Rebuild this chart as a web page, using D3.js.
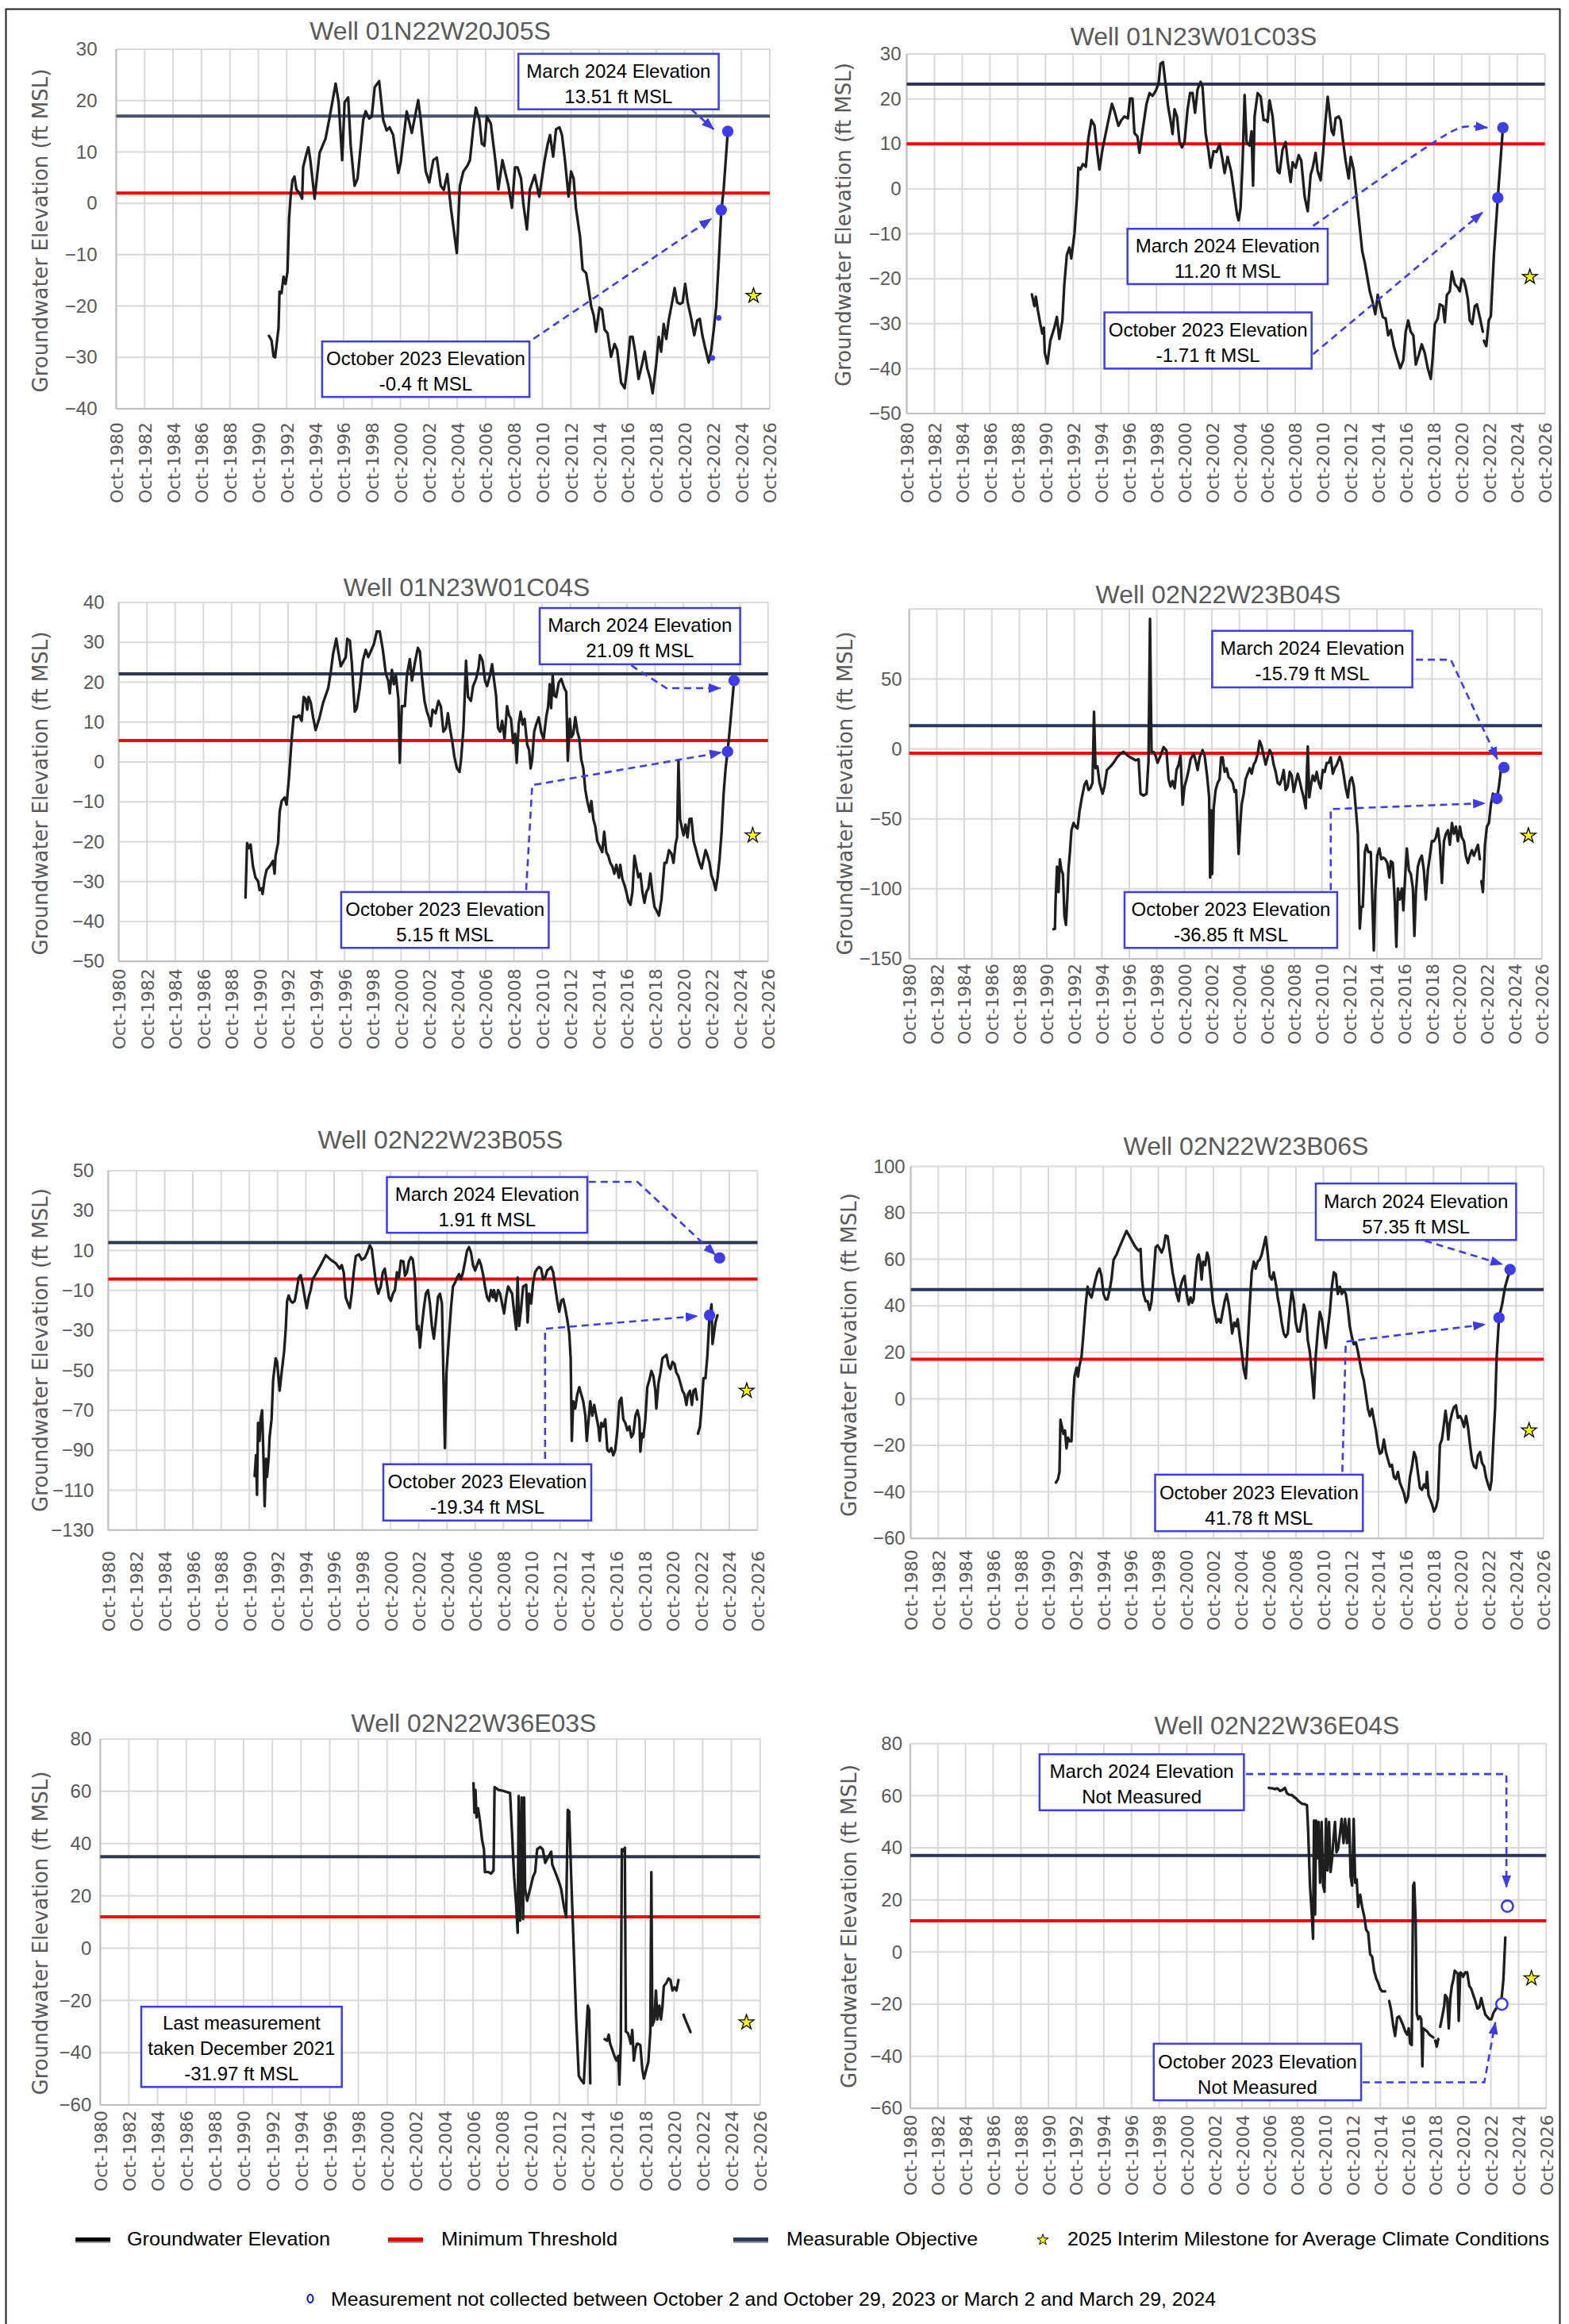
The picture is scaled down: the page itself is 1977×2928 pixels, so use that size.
<!DOCTYPE html>
<html><head><meta charset="utf-8">
<script src="https://cdn.jsdelivr.net/npm/d3@7"></script>
<style>body{margin:0;background:#fff}</style>
</head><body>
<script>
// ---------------- DATA ----------------
const wellTitles = ["Well 01N22W20J05S","Well 01N23W01C03S","Well 01N23W01C04S","Well 02N22W23B04S","Well 02N22W23B05S","Well 02N22W23B06S","Well 02N22W36E03S","Well 02N22W36E04S"];
const xTickLabels = ["Oct-1980","Oct-1982","Oct-1984","Oct-1986","Oct-1988","Oct-1990","Oct-1992","Oct-1994","Oct-1996","Oct-1998","Oct-2000","Oct-2002","Oct-2004","Oct-2006","Oct-2008","Oct-2010","Oct-2012","Oct-2014","Oct-2016","Oct-2018","Oct-2020","Oct-2022","Oct-2024","Oct-2026"];
const yDomains = [[-40,30],[-50,30],[-50,40],[-150,100],[-130,50],[-60,100],[-60,80],[-60,80]];
const yGridSteps = [10,10,10,50,20,20,20,20];
const yTickLabels = [
  [-40,-30,-20,-10,0,10,20,30],
  [-50,-40,-30,-20,-10,0,10,20,30],
  [-50,-40,-30,-20,-10,0,10,20,30,40],
  [-150,-100,-50,0,50],
  [-130,-110,-90,-70,-50,-30,-10,10,30,50],
  [-60,-40,-20,0,20,40,60,80,100],
  [-60,-40,-20,0,20,40,60,80],
  [-60,-40,-20,0,20,40,60,80]
];
const measurableObjective = [17, 23.3, 22.1, 16.7, 14, 47, 35, 37];
const minimumThreshold = [2, 10, 5.4, -3.1, -4.3, 17, 12, 12];
const interimMilestone2025 = [[2025.6,-18],[2025.66,-19.6],[2025.66,-18.4],[2025.76,-62],[2025.98,-60.2],[2025.69,-13.6],[2025.8,-28.4],[2025.68,-10.1]];
const oct2023Points = [[2023.33,-1.3],[2023.35,-2.0],[2023.88,2.6],[2023.47,-35.4],[2023.35,-22.4],[2023.51,34.9],null,[2023.54,-20]];
const mar2024Points = [[2023.79,14.0],[2023.72,13.6],[2024.34,20.4],[2023.98,-13.3],[2024.06,6.3],[2024.31,55.6],null,[2023.94,17.6]];
const pointMeasured = [true,true,true,true,true,true,true,false];
const marchLabels = ["13.51 ft MSL","11.20 ft MSL","21.09 ft MSL","-15.79 ft MSL","1.91 ft MSL","57.35 ft MSL",null,"Not Measured"];
const octoberLabels = ["-0.4 ft MSL","-1.71 ft MSL","5.15 ft MSL","-36.85 ft MSL","-19.34 ft MSL","41.78 ft MSL",null,"Not Measured"];
const lastMeasurementLines = ["Last measurement","taken December 2021","-31.97 ft MSL"];
const extraDots1 = [[2022.7,-30.1],[2023.15,-22.3]];

const gw1 = [[1991.5,-25.8],[1991.68,-26.7],[1991.82,-29.8],[1991.93,-30],[1992.17,-24.3],[1992.24,-17.2],[1992.38,-17.5],[1992.52,-14.3],[1992.66,-15.7],[1992.8,-13.3],[1992.91,-3],[1993.02,1.3],[1993.15,4.5],[1993.29,5.2],[1993.43,2.7],[1993.64,2],[1993.83,0.9],[1993.9,7],[1994.15,9.8],[1994.27,10.9],[1994.41,8.4],[1994.71,0.9],[1995.06,9.8],[1995.48,12.6],[1995.73,16.2],[1996.19,23.3],[1996.4,19.7],[1996.65,8.4],[1996.82,19.7],[1997.07,20.6],[1997.25,11.2],[1997.52,3.4],[1997.73,4.8],[1998.13,16.2],[1998.3,17.9],[1998.55,16.5],[1998.73,16.9],[1998.94,22.6],[1999.25,23.8],[1999.54,16.2],[1999.78,14.2],[1999.99,14.8],[2000.24,13.3],[2000.6,5.9],[2000.77,8],[2001.19,17.9],[2001.55,13.7],[2002.0,20.1],[2002.18,16.2],[2002.53,6.2],[2002.78,4.1],[2003.06,8.4],[2003.31,8.9],[2003.59,3.4],[2003.8,2.6],[2004.05,5.7],[2004.3,-0.9],[2004.72,-9.7],[2004.93,3.4],[2005.18,6.2],[2005.46,7.3],[2005.64,8.4],[2005.88,14.8],[2006.06,18.6],[2006.31,16.2],[2006.48,11.6],[2006.66,11.2],[2006.83,16.9],[2007.11,15.5],[2007.46,7.7],[2007.64,2.7],[2007.93,8.4],[2008.17,5.5],[2008.35,3.4],[2008.6,-0.9],[2008.81,7],[2008.99,7],[2009.24,4.8],[2009.4,-0.1],[2009.65,-5.1],[2009.86,2.7],[2010.2,5.5],[2010.52,1.3],[2010.9,8.4],[2011.12,11.6],[2011.28,13.3],[2011.5,9.1],[2011.7,14.4],[2011.94,14.8],[2012.12,13.3],[2012.33,8.4],[2012.58,1.3],[2012.76,6.2],[2012.94,4.8],[2013.1,-0.9],[2013.39,-6.5],[2013.57,-12.9],[2013.82,-13.6],[2013.99,-16.5],[2014.17,-20],[2014.35,-21.8],[2014.52,-25],[2014.76,-20.3],[2014.94,-20.7],[2015.12,-24.6],[2015.33,-25.3],[2015.57,-29.9],[2015.82,-27.4],[2016.0,-28.5],[2016.28,-34.9],[2016.53,-36],[2016.74,-31.3],[2016.92,-26],[2017.09,-26],[2017.27,-28.9],[2017.51,-34.2],[2017.76,-31.3],[2017.94,-28.9],[2018.12,-32.1],[2018.33,-34.2],[2018.5,-37],[2018.75,-31.3],[2018.93,-26],[2019.1,-28.9],[2019.28,-23.5],[2019.46,-26.4],[2019.63,-22.8],[2019.87,-19.3],[2020.05,-16.5],[2020.23,-19.3],[2020.44,-19.6],[2020.61,-19.3],[2020.79,-15.7],[2020.97,-19.3],[2021.22,-22.5],[2021.43,-25.7],[2021.64,-22.8],[2021.82,-22.5],[2022.0,-25.7],[2022.17,-27.8],[2022.45,-31],[2022.63,-28.5],[2022.8,-24.6],[2022.98,-20],[2023.15,-11.5],[2023.33,-1.6],[2023.5,2.7],[2023.79,14]];

const gw2 = [[1989.77,-23.5],[1989.95,-26.1],[1990.06,-24],[1990.2,-27],[1990.38,-30.1],[1990.52,-32.2],[1990.63,-30.9],[1990.7,-36.5],[1990.89,-38.9],[1991.1,-33.8],[1991.39,-30.9],[1991.57,-28.5],[1991.75,-33.4],[1991.97,-29.3],[1992.11,-21.2],[1992.29,-14.7],[1992.47,-13.1],[1992.61,-15.5],[1992.84,-9.9],[1993.02,-1.8],[1993.12,4.7],[1993.27,4.3],[1993.45,5.5],[1993.66,4.9],[1993.84,11.2],[1994.06,15.3],[1994.28,14.1],[1994.46,8.8],[1994.64,4.3],[1994.86,8.8],[1995.07,12],[1995.29,15.3],[1995.54,18.9],[1995.72,17.3],[1996.01,14],[1996.22,15.3],[1996.44,16.1],[1996.69,15.7],[1996.84,20.1],[1997.02,20.1],[1997.16,12.4],[1997.38,11.6],[1997.52,8],[1997.74,12.8],[1998.03,18.9],[1998.25,21.3],[1998.47,20.7],[1998.68,21.7],[1998.9,23.4],[1999.04,27.8],[1999.22,28.2],[1999.4,23.4],[1999.58,18.5],[1999.76,15.3],[1999.91,12.2],[2000.05,17.7],[2000.23,16.1],[2000.41,10.4],[2000.59,9.2],[2000.77,10.4],[2000.99,17.7],[2001.17,21.3],[2001.35,21.3],[2001.53,16.9],[2001.71,22.1],[2001.93,23.8],[2002.07,22.6],[2002.29,12.4],[2002.5,8.4],[2002.65,4.7],[2002.87,8.4],[2003.08,8.2],[2003.3,10],[2003.52,6.3],[2003.66,3.5],[2003.88,7.1],[2004.13,3.9],[2004.31,-0.1],[2004.56,-5.8],[2004.67,-7],[2004.81,-4.2],[2004.96,6.3],[2005.1,20.9],[2005.24,10.4],[2005.46,9.6],[2005.6,12.8],[2005.71,0.7],[2005.82,16.1],[2006.04,21.3],[2006.26,20.5],[2006.47,15.3],[2006.62,15.3],[2006.76,14.9],[2006.9,19.7],[2007.12,16.1],[2007.26,11.2],[2007.48,3.9],[2007.62,3.5],[2007.84,8.8],[2008.06,10.4],[2008.2,6.3],[2008.42,1.5],[2008.56,5.9],[2008.78,4.7],[2009.0,7.5],[2009.18,6.3],[2009.43,-1.8],[2009.65,-5],[2009.86,3.1],[2010.01,4.7],[2010.22,8],[2010.36,4],[2010.58,1.9],[2010.76,8],[2010.94,15.3],[2011.09,20.5],[2011.23,16.9],[2011.38,12.8],[2011.52,12],[2011.66,15.7],[2011.88,16.1],[2012.02,15.3],[2012.17,11.2],[2012.38,6.3],[2012.6,2.3],[2012.75,7.1],[2012.96,4.3],[2013.11,-0.1],[2013.33,-6.6],[2013.58,-13.9],[2013.76,-16.4],[2013.94,-19.6],[2014.12,-22.8],[2014.34,-25.3],[2014.52,-27.9],[2014.7,-23.6],[2014.88,-26.1],[2015.06,-28.5],[2015.27,-28.9],[2015.45,-32.6],[2015.63,-31.4],[2015.85,-35],[2016.07,-37.4],[2016.32,-39.9],[2016.54,-38.2],[2016.71,-31.8],[2016.89,-29.3],[2017.07,-31.8],[2017.26,-32.6],[2017.44,-39.1],[2017.65,-37],[2017.87,-34.6],[2018.09,-36.6],[2018.3,-39.9],[2018.52,-42.3],[2018.66,-37.4],[2018.81,-30.1],[2019.02,-28.9],[2019.17,-25.7],[2019.39,-26.1],[2019.53,-29.7],[2019.68,-23.6],[2019.89,-22.8],[2020.04,-18.4],[2020.25,-21.2],[2020.47,-22],[2020.61,-22.8],[2020.75,-20],[2020.9,-20.4],[2021.04,-22],[2021.19,-24.5],[2021.33,-29.3],[2021.51,-30.1],[2021.69,-26.1],[2021.84,-25.7],[2022.05,-28.5],[2022.27,-31.8],[2022.3,null],[2022.35,-33.8],[2022.52,-35],[2022.7,-29.3],[2022.85,-28.3],[2023.07,-14.7],[2023.35,-2],[2023.72,13.6]];

const gw3 = [[1989.73,-34],[1989.84,-20.3],[1989.98,-21.6],[1990.09,-20.7],[1990.26,-26.2],[1990.44,-29],[1990.62,-29.9],[1990.73,-32.1],[1990.87,-31.7],[1990.94,-33.1],[1991.08,-29.4],[1991.22,-27.1],[1991.51,-25.8],[1991.68,-24.8],[1991.79,-28],[1991.86,-23.5],[1992.04,-20.3],[1992.15,-12.5],[1992.29,-9.8],[1992.5,-8.9],[1992.64,-10.7],[1992.82,-3.4],[1993.0,5.8],[1993.14,11.4],[1993.35,11.2],[1993.53,11.7],[1993.71,10.3],[1993.85,16.3],[1993.99,15.8],[1994.1,13.1],[1994.2,16.3],[1994.35,14.9],[1994.52,11.2],[1994.7,8],[1994.98,11.2],[1995.23,14.9],[1995.59,18.5],[1995.77,22.6],[1995.94,27.2],[1996.16,30.9],[1996.3,27.7],[1996.48,24],[1996.69,25.4],[1996.83,26.3],[1996.94,30.9],[1997.12,30.4],[1997.26,24.9],[1997.47,12.6],[1997.61,13.5],[1997.82,18.5],[1998.04,25.4],[1998.25,28.1],[1998.43,26.3],[1998.6,27.7],[1998.82,29.5],[1999.03,32.7],[1999.24,32.7],[1999.46,28.1],[1999.67,22.2],[1999.84,20.4],[1999.95,17.2],[2000.1,23.1],[2000.24,19.5],[2000.38,21.7],[2000.56,15.8],[2000.66,-0.2],[2000.8,14],[2001.02,14],[2001.16,21.7],[2001.37,25.8],[2001.52,20.4],[2001.73,24.9],[2001.94,28.6],[2002.08,27.7],[2002.23,21.3],[2002.41,15.3],[2002.58,12.6],[2002.72,11.2],[2002.86,9],[2002.98,13.1],[2003.2,12.2],[2003.4,15.3],[2003.57,13.9],[2003.75,7.6],[2003.93,8.5],[2004.07,12.2],[2004.21,8.5],[2004.39,4.8],[2004.53,1.2],[2004.71,-1.6],[2004.89,-2.5],[2004.99,0.3],[2005.17,8.5],[2005.35,25.4],[2005.49,16.3],[2005.7,15.3],[2005.85,19],[2006.06,20.8],[2006.24,23.6],[2006.34,26.8],[2006.52,25.4],[2006.7,20.4],[2006.84,19],[2007.02,21.3],[2007.2,24.5],[2007.34,20.4],[2007.48,16.7],[2007.62,8.5],[2007.77,7.6],[2007.91,10.3],[2008.08,5.8],[2008.26,14],[2008.4,11.7],[2008.54,10.8],[2008.69,4.8],[2008.83,7.1],[2008.94,-0.2],[2009.08,9.4],[2009.22,12.6],[2009.36,9.4],[2009.5,10.8],[2009.68,4.4],[2009.82,3],[2009.93,-1.6],[2010.04,0.7],[2010.18,7.6],[2010.32,9.4],[2010.5,11.2],[2010.67,7.6],[2010.85,5.8],[2011.03,11.2],[2011.17,14],[2011.28,19.5],[2011.38,13.5],[2011.49,21.7],[2011.6,16.7],[2011.74,16.3],[2011.92,19.9],[2012.1,20.8],[2012.31,18.5],[2012.45,17.6],[2012.56,0.3],[2012.7,10.8],[2012.81,6.2],[2012.95,7.1],[2013.09,11.2],[2013.24,7.6],[2013.38,5.8],[2013.51,0.7],[2013.66,-1.6],[2013.8,-7],[2013.94,-9.8],[2014.12,-12.5],[2014.23,-9.8],[2014.37,-14.3],[2014.51,-16.2],[2014.65,-19.8],[2014.83,-21.2],[2015.0,-22.6],[2015.14,-17.5],[2015.29,-22.6],[2015.43,-23.5],[2015.57,-25.3],[2015.72,-26.2],[2015.86,-28],[2016.0,-25.8],[2016.18,-29],[2016.28,-25.8],[2016.43,-29.4],[2016.57,-30.8],[2016.71,-32.6],[2016.85,-34.9],[2017.0,-35.8],[2017.14,-32.6],[2017.28,-23.5],[2017.42,-26.2],[2017.56,-28.9],[2017.7,-28],[2017.85,-32.6],[2017.99,-35.3],[2018.13,-32.6],[2018.27,-31.7],[2018.41,-28],[2018.55,-32.6],[2018.7,-36.3],[2018.84,-37.2],[2019.02,-38.5],[2019.2,-34.4],[2019.41,-25.3],[2019.55,-25.3],[2019.73,-22.1],[2019.91,-23],[2020.05,-25.3],[2020.19,-20.7],[2020.3,-18.9],[2020.4,0.3],[2020.51,-14.3],[2020.62,-16.2],[2020.76,-18.4],[2020.9,-15.7],[2021.04,-18.9],[2021.18,-14.3],[2021.32,-14.2],[2021.47,-19.8],[2021.61,-21.6],[2021.75,-23.5],[2021.89,-25.3],[2022.04,-26.7],[2022.18,-24.4],[2022.32,-22.1],[2022.46,-23.5],[2022.6,-25.3],[2022.74,-28.5],[2022.89,-29.9],[2023.03,-32.1],[2023.17,-29],[2023.31,-24.4],[2023.45,-18],[2023.6,-7.9],[2023.74,-1.6],[2023.88,2.6],[2024.02,7.6],[2024.34,20.4]];

const gw4 = [[1991.23,-128.9],[1991.34,-128.5],[1991.38,-110.2],[1991.49,-84.1],[1991.6,-102.3],[1991.7,-78.9],[1991.81,-86.7],[1991.92,-89.3],[1992.03,-119.3],[1992.14,-125.8],[1992.25,-105],[1992.32,-86.7],[1992.43,-73.7],[1992.54,-58.1],[1992.69,-52.9],[1992.83,-55.5],[1992.98,-56.8],[1993.12,-45],[1993.3,-34.6],[1993.49,-25.5],[1993.63,-22.9],[1993.78,-29.4],[1993.92,-28.1],[1994.07,-24.2],[1994.18,26.6],[1994.29,-13.8],[1994.43,-12.5],[1994.58,-24.2],[1994.8,-32],[1994.94,-26.8],[1995.12,-15.1],[1995.38,-12.5],[1995.6,-9.9],[1995.85,-6],[1996.11,-3.4],[1996.33,-2.1],[1996.62,-4.7],[1996.91,-6.5],[1997.2,-8.1],[1997.42,-7.3],[1997.56,-32],[1997.78,-33.3],[1998.0,-32],[1998.14,-8.6],[1998.25,93],[1998.36,-2.1],[1998.5,-2.1],[1998.65,-4.7],[1998.8,-9.9],[1999.02,-4.7],[1999.24,1.3],[1999.45,-1.3],[1999.6,-21.6],[1999.74,-26.8],[1999.89,-22.9],[2000.04,-28.1],[2000.18,-15.1],[2000.33,-11.2],[2000.47,-4.7],[2000.62,-39.8],[2000.76,-26.8],[2000.91,-21.6],[2001.06,-15.1],[2001.2,-7.3],[2001.42,-3.4],[2001.57,-8.6],[2001.71,-15.1],[2001.86,-6],[2002.07,-0.8],[2002.22,-4.7],[2002.4,-19],[2002.55,-34.6],[2002.62,-91.9],[2002.69,-43.8],[2002.77,-89.3],[2002.88,-42.4],[2003.02,-29.4],[2003.17,-24.2],[2003.31,-21.6],[2003.42,-6],[2003.53,-6],[2003.68,-16.4],[2003.82,-13.8],[2003.97,-20.3],[2004.11,-21.6],[2004.26,-24.2],[2004.4,-30.7],[2004.51,-29.4],[2004.62,-55.5],[2004.69,-75],[2004.8,-55.5],[2004.91,-39.8],[2005.06,-32],[2005.2,-21.6],[2005.35,-17.7],[2005.5,-13.8],[2005.64,-17.7],[2005.79,-11.2],[2005.93,-8.6],[2006.08,-3.4],[2006.22,5.7],[2006.37,1.8],[2006.51,-4.7],[2006.66,-11.2],[2006.8,-6],[2006.95,-0.8],[2007.1,-3.4],[2007.24,-11.2],[2007.39,-16.4],[2007.53,-24.2],[2007.68,-25.5],[2007.83,-21.6],[2007.97,-15.1],[2008.11,-29.4],[2008.26,-26.8],[2008.41,-16.4],[2008.55,-19],[2008.7,-30.7],[2008.84,-24.2],[2008.99,-17.7],[2009.13,-22.9],[2009.28,-29.4],[2009.42,-34.6],[2009.57,-42.4],[2009.72,1.8],[2009.83,-34.6],[2009.94,-26.8],[2010.08,-19],[2010.23,-22.9],[2010.37,-16.4],[2010.52,-24.2],[2010.66,-28.1],[2010.81,-15.1],[2010.95,-16.4],[2011.1,-9.9],[2011.25,-9.9],[2011.39,-6],[2011.54,-17.7],[2011.68,-13.8],[2011.83,-11.2],[2012.05,-5.5],[2012.19,-9.9],[2012.34,-19],[2012.48,-28.1],[2012.63,-34.6],[2012.77,-22.9],[2012.92,-20.3],[2013.07,-26.8],[2013.21,-42.4],[2013.36,-60.7],[2013.5,-128.4],[2013.61,-112.8],[2013.72,-112.8],[2013.87,-73.7],[2013.98,-68.5],[2014.12,-73.7],[2014.3,-73.7],[2014.41,-107.6],[2014.52,-144],[2014.63,-102.3],[2014.77,-76.3],[2014.92,-71.1],[2015.06,-78.9],[2015.21,-77.6],[2015.36,-78.9],[2015.5,-81.5],[2015.65,-91.9],[2015.76,-80.2],[2015.9,-81.5],[2016.05,-110.2],[2016.16,-141.4],[2016.27,-99.7],[2016.41,-107.6],[2016.56,-99.7],[2016.67,-115.4],[2016.81,-89.3],[2016.92,-71.1],[2017.07,-86.7],[2017.21,-89.3],[2017.36,-99.7],[2017.47,-133.6],[2017.58,-102.3],[2017.72,-84.1],[2017.87,-78.9],[2018.01,-76.3],[2018.16,-86.7],[2018.3,-107.6],[2018.45,-86.7],[2018.6,-76.3],[2018.74,-65.9],[2018.89,-65.9],[2019.03,-63.3],[2019.18,-56.8],[2019.32,-68.5],[2019.47,-95.8],[2019.62,-65.9],[2019.76,-60.7],[2019.91,-58.1],[2020.05,-68.5],[2020.2,-52.9],[2020.34,-60.7],[2020.49,-55.5],[2020.63,-65.9],[2020.78,-55.5],[2020.92,-63.3],[2021.07,-65.9],[2021.21,-76.3],[2021.36,-81.5],[2021.5,-76.3],[2021.65,-72.4],[2021.8,-76.3],[2021.94,-72.4],[2022.09,-68.5],[2022.23,-78.9],[2022.28,null],[2022.34,-94.5],[2022.45,-102.3],[2022.6,-68.5],[2022.74,-55.5],[2022.89,-52.9],[2023.03,-39.8],[2023.18,-32],[2023.47,-35.4],[2023.62,-26.8],[2023.76,-15.1],[2023.98,-13.3]];

const gw5 = [[1991.12,-102.9],[1991.22,-92.5],[1991.29,-112.3],[1991.36,-76.3],[1991.47,-85.3],[1991.54,-74.5],[1991.65,-70],[1991.75,-94.3],[1991.83,-118],[1991.93,-94.3],[1992.0,-103.3],[1992.11,-94.3],[1992.18,-83.5],[1992.32,-74.5],[1992.43,-54.8],[1992.61,-44],[1992.71,-45.8],[1992.89,-60.2],[1993.03,-51.2],[1993.21,-40.4],[1993.32,-29.6],[1993.42,-15.2],[1993.53,-12.5],[1993.67,-15.2],[1993.81,-16.1],[1993.96,-15.2],[1994.1,-9.8],[1994.24,-3.5],[1994.38,-2.3],[1994.52,-7.1],[1994.67,-13.4],[1994.81,-18.8],[1994.95,-13.4],[1995.09,-9.8],[1995.23,-4.4],[1995.45,-1.8],[1995.8,2.7],[1996.16,7.6],[1996.51,5.4],[1996.87,3.6],[1997.15,0.9],[1997.29,2.7],[1997.43,-0.9],[1997.57,-13.4],[1997.71,-16.1],[1997.86,-18.8],[1998.0,-11.6],[1998.14,-0.9],[1998.29,7.2],[1998.5,8.1],[1998.71,5.4],[1998.92,6.3],[1999.1,9],[1999.28,12.6],[1999.42,10.8],[1999.56,2.7],[1999.71,-6.2],[1999.88,-11.6],[2000.06,-8],[2000.2,-0.9],[2000.34,0.9],[2000.49,-6.2],[2000.63,-13.4],[2000.77,-15.2],[2000.92,-11.6],[2001.06,-9.8],[2001.2,-0.9],[2001.34,-3.5],[2001.48,4.9],[2001.66,4.5],[2001.77,-2.6],[2001.91,-0.9],[2002.05,4.5],[2002.19,6.7],[2002.33,5.4],[2002.48,-4.4],[2002.62,-29.6],[2002.73,-27.8],[2002.83,-38.6],[2002.97,-27.8],[2003.11,-18.8],[2003.25,-11.6],[2003.4,-9.8],[2003.54,-16.5],[2003.68,-27.8],[2003.82,-34.1],[2003.97,-24.2],[2004.11,-13.4],[2004.25,-11.6],[2004.39,-16.5],[2004.46,-40.4],[2004.6,-88.9],[2004.71,-51.2],[2004.85,-36.8],[2005.03,-18.8],[2005.17,-8],[2005.31,-6.2],[2005.46,-3.5],[2005.6,-1.8],[2005.74,-4.4],[2005.88,-0.9],[2006.03,4.5],[2006.17,9.9],[2006.31,11.7],[2006.45,9],[2006.59,2.7],[2006.74,0],[2006.88,2.7],[2007.02,5.4],[2007.16,2.7],[2007.3,-1.8],[2007.44,-8],[2007.59,-13.4],[2007.73,-15.2],[2007.87,-9.8],[2008.01,-13.4],[2008.08,-9.8],[2008.23,-15.2],[2008.37,-9.8],[2008.51,-11.6],[2008.65,-16.5],[2008.79,-21.5],[2008.94,-13.4],[2009.08,-8],[2009.22,-9.8],[2009.36,-11.6],[2009.5,-20.6],[2009.65,-29.6],[2009.75,-3.5],[2009.86,-27.8],[2010.0,-18.8],[2010.14,-8],[2010.36,-7.1],[2010.46,-26],[2010.57,-11.6],[2010.71,-16.5],[2010.85,-6.2],[2010.99,-0.9],[2011.14,0.9],[2011.28,1.8],[2011.42,0.9],[2011.56,-4.4],[2011.7,-3.5],[2011.85,0],[2011.99,0.9],[2012.13,1.8],[2012.27,-0.9],[2012.41,-8],[2012.56,-15.2],[2012.7,-20.6],[2012.84,-15.2],[2012.98,-14.3],[2013.12,-18.8],[2013.26,-24.2],[2013.41,-31.4],[2013.51,-44],[2013.59,-85.3],[2013.69,-65.5],[2013.83,-69.1],[2013.98,-62],[2014.12,-58.4],[2014.26,-62],[2014.4,-65.5],[2014.55,-72.7],[2014.65,-85.3],[2014.76,-76.3],[2014.9,-65.5],[2015.04,-72.7],[2015.18,-67.3],[2015.32,-72.7],[2015.47,-78.1],[2015.57,-85.3],[2015.68,-76.3],[2015.82,-78.1],[2015.96,-74.5],[2016.11,-89.8],[2016.25,-90.7],[2016.39,-88.9],[2016.53,-92.5],[2016.67,-89.8],[2016.82,-80],[2016.96,-65.5],[2017.1,-63.7],[2017.24,-74.5],[2017.38,-76.3],[2017.53,-80],[2017.67,-78.1],[2017.81,-83.5],[2017.95,-81.7],[2018.1,-72.7],[2018.24,-70],[2018.38,-74.5],[2018.45,-90.7],[2018.56,-81.7],[2018.66,-83.5],[2018.8,-74.5],[2018.94,-58.4],[2019.09,-54.8],[2019.23,-50.3],[2019.37,-52.9],[2019.51,-60.2],[2019.58,-69.1],[2019.73,-56.6],[2019.87,-51.2],[2020.01,-44],[2020.15,-43.1],[2020.3,-42.2],[2020.44,-47.6],[2020.58,-49.4],[2020.72,-45.8],[2020.86,-46.7],[2021.0,-51.2],[2021.14,-52.9],[2021.29,-56.6],[2021.43,-60.2],[2021.57,-62],[2021.71,-67.3],[2021.82,-62],[2021.96,-60.2],[2022.1,-67.3],[2022.21,-60.2],[2022.35,-59.3],[2022.46,-64.6],[2022.5,null],[2022.53,-81.7],[2022.67,-78.1],[2022.78,-69.1],[2022.92,-53.9],[2023.06,-53.9],[2023.2,-42.2],[2023.35,-22.4],[2023.42,-20.6],[2023.49,-17],[2023.56,-36.8],[2023.63,-33.2],[2023.77,-26],[2023.91,-22.4]];

const gw6 = [[1991.3,-36],[1991.45,-34.5],[1991.56,-31.4],[1991.63,-9],[1991.74,-12],[1991.85,-15.1],[1991.96,-13.6],[1992.07,-21.3],[1992.18,-16.7],[1992.29,-18.2],[1992.43,-18.2],[1992.54,-1.2],[1992.65,9.6],[1992.8,13.4],[1992.9,9.6],[1993.01,14.2],[1993.16,18.1],[1993.3,28.1],[1993.45,39.7],[1993.6,48.2],[1993.74,45.1],[1993.89,43.6],[1994.03,47.4],[1994.18,51.3],[1994.32,54.4],[1994.47,56],[1994.61,52.9],[1994.76,45.1],[1994.91,42.8],[1995.05,42.8],[1995.2,46.7],[1995.34,51.3],[1995.49,59.8],[1995.71,62.1],[1995.92,65.2],[1996.14,68.3],[1996.43,72.2],[1996.65,69.9],[1996.87,67.5],[1997.09,65.2],[1997.31,63.7],[1997.45,64.5],[1997.56,51.3],[1997.67,45.1],[1997.82,42],[1997.96,42],[1998.11,38.2],[1998.25,42],[1998.4,52.9],[1998.55,65.2],[1998.69,66],[1998.84,64.5],[1998.98,62.9],[1999.13,65.2],[1999.27,70.2],[1999.42,69.9],[1999.53,65.2],[1999.64,60.6],[1999.78,54.4],[1999.93,49.8],[2000.07,45.1],[2000.22,42],[2000.36,48.2],[2000.51,51.3],[2000.65,52.9],[2000.8,45.1],[2000.95,40.5],[2001.09,43.6],[2001.2,41.3],[2001.31,42.8],[2001.42,51.3],[2001.57,60.6],[2001.67,62.1],[2001.78,59],[2001.89,51.3],[2002.0,59],[2002.15,57.5],[2002.29,62.9],[2002.4,60.6],[2002.55,51.3],[2002.7,42],[2002.84,37.4],[2002.99,32.8],[2003.13,34.3],[2003.28,32.8],[2003.42,37.4],[2003.57,42],[2003.71,45.1],[2003.86,40.5],[2003.97,35.9],[2004.11,28.1],[2004.26,32.8],[2004.4,31.2],[2004.51,34.3],[2004.66,26.6],[2004.8,20.4],[2004.95,12.7],[2005.1,8.8],[2005.24,23.5],[2005.39,40.5],[2005.53,54.4],[2005.68,59],[2005.82,56],[2005.97,59],[2006.11,59.8],[2006.26,62.1],[2006.41,66],[2006.55,69.6],[2006.7,62.1],[2006.84,52.9],[2006.99,51.3],[2007.13,54.4],[2007.28,49.8],[2007.42,43.6],[2007.57,38.9],[2007.71,32.8],[2007.86,28.1],[2008.0,26.6],[2008.15,28.1],[2008.3,38.9],[2008.44,46.7],[2008.59,42],[2008.73,32.8],[2008.88,28.9],[2009.02,28.9],[2009.17,34.3],[2009.32,40.5],[2009.46,37.4],[2009.61,25],[2009.75,20.4],[2009.9,11.1],[2010.05,0.3],[2010.19,18.9],[2010.34,29.7],[2010.48,37.4],[2010.63,34.3],[2010.77,28.1],[2010.92,21.9],[2011.06,29.7],[2011.21,37.4],[2011.36,48.2],[2011.5,54.4],[2011.65,53.6],[2011.79,45.1],[2011.94,48.2],[2012.08,45.1],[2012.23,46.7],[2012.37,45.1],[2012.52,38.9],[2012.66,31.2],[2012.81,26.6],[2012.95,23.5],[2013.1,24.3],[2013.25,20.4],[2013.39,15.8],[2013.54,11.1],[2013.68,8],[2013.83,1.9],[2013.98,-4.3],[2014.12,-7.4],[2014.27,-4.3],[2014.41,-9],[2014.56,-13.6],[2014.7,-19.8],[2014.85,-23.6],[2014.99,-22.9],[2015.14,-17.5],[2015.29,-22.9],[2015.43,-26],[2015.58,-29.1],[2015.72,-28.4],[2015.87,-33.7],[2016.01,-34.5],[2016.16,-31.4],[2016.3,-36],[2016.45,-38.3],[2016.6,-40.6],[2016.74,-44.5],[2016.89,-42.2],[2017.03,-33.7],[2017.18,-29.1],[2017.33,-22.9],[2017.47,-25.2],[2017.62,-32.2],[2017.76,-38.3],[2017.91,-39.1],[2018.05,-36.8],[2018.2,-38.3],[2018.27,-31.4],[2018.38,-41.4],[2018.49,-43],[2018.63,-45.3],[2018.78,-48.4],[2018.92,-46.8],[2019.07,-43],[2019.21,-19.8],[2019.36,-17.5],[2019.51,-10.5],[2019.62,-5.1],[2019.73,-10.5],[2019.82,-17.5],[2019.93,-10.5],[2020.1,-5.9],[2020.23,-3.6],[2020.38,-2.8],[2020.52,-8.2],[2020.67,-7.4],[2020.81,-9],[2020.96,-12.1],[2021.11,-7.4],[2021.25,-12.1],[2021.4,-19.8],[2021.54,-26],[2021.69,-29.1],[2021.84,-29.8],[2021.98,-24.4],[2022.13,-22.9],[2022.27,-27.5],[2022.42,-29.1],[2022.56,-33.7],[2022.71,-36.8],[2022.85,-39.1],[2022.96,-35.2],[2023.11,-16.7],[2023.22,-4.3],[2023.33,17.3],[2023.51,34.9],[2023.73,40.5],[2023.95,48.2],[2024.31,55.6]];

const gw7 = [[2006.77,63.1],[2006.84,51.8],[2006.91,60.5],[2006.98,50],[2007.09,53.5],[2007.23,48.3],[2007.37,41.3],[2007.5,37.8],[2007.57,29.1],[2007.82,29.1],[2008.0,28.5],[2008.17,29.7],[2008.24,61.6],[2008.52,60.5],[2008.87,60.1],[2009.32,59.3],[2009.46,43.6],[2009.6,27.4],[2009.74,16.9],[2009.85,5.9],[2009.92,58.2],[2010.02,10.5],[2010.13,57.6],[2010.23,11.1],[2010.3,57.6],[2010.37,22.7],[2010.51,18.1],[2010.72,22.7],[2010.93,27.4],[2011.07,29.1],[2011.21,37.8],[2011.42,38.7],[2011.6,37.8],[2011.77,32.6],[2011.98,34.9],[2012.19,36.9],[2012.26,32],[2012.47,29.1],[2012.71,25.6],[2012.88,22.7],[2013.06,16.3],[2013.23,11.7],[2013.34,52.9],[2013.44,52.3],[2013.58,27.4],[2013.76,-0.5],[2013.93,-27.3],[2014.11,-48.8],[2014.28,-50.5],[2014.46,-51.7],[2014.63,-33.1],[2014.74,-22],[2014.84,-23.8],[2014.91,-51.7],[2015.4,null],[2015.92,-34.8],[2016.09,-35.4],[2016.2,-33.1],[2016.3,-36.6],[2016.45,-38.9],[2016.59,-41.2],[2016.73,-43],[2016.87,-41.2],[2016.94,-52.2],[2017.04,-35.4],[2017.11,37.8],[2017.21,37.2],[2017.32,38.4],[2017.39,-31.9],[2017.53,-32.5],[2017.63,-34.2],[2017.74,-36.6],[2017.84,-31.3],[2017.95,-43],[2018.05,-38.9],[2018.16,-36.6],[2018.26,-36.6],[2018.4,-37.1],[2018.54,-46.4],[2018.65,-49.9],[2018.82,-46.4],[2018.96,-43.5],[2019.1,-31.9],[2019.17,29.1],[2019.24,-29.6],[2019.38,-27.3],[2019.49,-16.2],[2019.59,-27.3],[2019.73,-22],[2019.84,-27.3],[2019.94,-22.6],[2020.04,-14.5],[2020.22,-13.3],[2020.36,-11.6],[2020.5,-12.2],[2020.64,-16.2],[2020.78,-15],[2020.92,-16.2],[2021.06,-12.2],[2021.2,null],[2021.41,-25.5],[2021.62,-28.4],[2021.9,-32.1]];

const gw8 = [[2006.69,63],[2006.95,62.8],[2007.13,62.5],[2007.31,62.8],[2007.49,61.8],[2007.67,62.2],[2007.85,63],[2007.99,61],[2008.14,60.4],[2008.36,60.2],[2008.5,59.5],[2008.65,59],[2008.79,58.1],[2008.93,57.5],[2009.08,56.9],[2009.3,56.7],[2009.44,56.3],[2009.52,47.6],[2009.66,25.5],[2009.81,12.6],[2009.88,5.1],[2009.95,50.5],[2010.03,14.4],[2010.1,50.5],[2010.21,36],[2010.28,49.9],[2010.39,26.6],[2010.5,49.9],[2010.61,25.5],[2010.71,23.1],[2010.82,51.1],[2010.93,31.3],[2011.04,49.9],[2011.15,30.7],[2011.26,35.9],[2011.37,44.1],[2011.47,49.9],[2011.58,38.3],[2011.69,39.5],[2011.8,44.1],[2011.95,51.1],[2012.09,41.8],[2012.2,51.1],[2012.34,41.8],[2012.49,51.1],[2012.6,29],[2012.71,25.5],[2012.82,51.1],[2012.93,26.6],[2013.04,27.8],[2013.14,17.3],[2013.29,22],[2013.43,17.3],[2013.58,13.8],[2013.72,8.6],[2013.87,7.4],[2014.01,-0.8],[2014.16,-1.9],[2014.3,-7.2],[2014.45,-10.1],[2014.59,-11.8],[2014.74,-14.2],[2014.88,-15.1],[2015.1,-15.1],[2015.25,null],[2015.39,-18.8],[2015.53,-22.3],[2015.68,-28.2],[2015.82,-32.2],[2015.97,-25.2],[2016.11,-24.7],[2016.26,-26.4],[2016.4,-28.2],[2016.55,-30.5],[2016.69,-31.7],[2016.8,-29.3],[2016.91,-35.2],[2017.02,-35.7],[2017.12,25.5],[2017.2,26.6],[2017.3,12.6],[2017.38,-23.5],[2017.49,-25.8],[2017.6,-24.7],[2017.71,-25.8],[2017.79,-43.9],[2017.85,-29.3],[2018.0,-29.9],[2018.14,-30.5],[2018.29,-31.7],[2018.43,-32.2],[2018.58,-32.8],[2018.65,null],[2018.72,-34],[2018.83,-36.3],[2018.94,-33.4],[2019.0,null],[2019.08,-28.7],[2019.23,-24.7],[2019.37,-20.6],[2019.44,-16.5],[2019.59,-17.7],[2019.7,-29.3],[2019.81,-17.7],[2019.92,-13],[2020.03,-10.7],[2020.13,-7.2],[2020.24,-7.8],[2020.35,-8.3],[2020.42,-26.4],[2020.53,-7.8],[2020.64,-8.3],[2020.74,-9.5],[2020.89,-7.8],[2021.03,-7.8],[2021.18,-13],[2021.33,-14.2],[2021.47,-16.5],[2021.62,-18.8],[2021.77,-21.7],[2021.91,-21.2],[2022.05,-17.7],[2022.2,-21.2],[2022.35,-24.1],[2022.49,-24.9],[2022.63,-25.8],[2022.78,-25.8],[2022.92,-23.5],[2023.07,-22.1],[2023.29,-20.6],[2023.5,-18.8],[2023.65,-10.7],[2023.79,5.6]];

const groundwater = [gw1,gw2,gw3,gw4,gw5,gw6,gw7,gw8];

// ---------------- LAYOUT (pixels) ----------------
const layout = [
 {l:146.5,r:970,t:62,b:515, title:[542,50], ylab:[50.5,290.5], tg:24, xg:17, navy:"#44546a"},
 {l:1142.5,r:1946.7,t:68,b:521, title:[1504,57], ylab:[1062.4,283], tg:7, xg:11, navy:"#2c3757"},
 {l:149.6,r:967.8,t:759,b:1211.3, title:[588,751], ylab:[50.5,999.5], tg:18, xg:9, navy:"#2c3757"},
 {l:1145.7,r:1943,t:767.3,b:1208, title:[1535,760], ylab:[1065,999.5], tg:9, xg:6, navy:"#2c3757"},
 {l:136.4,r:954.5,t:1474.9,b:1927.8, title:[555,1447], ylab:[50.5,1701], tg:18, xg:26, navy:"#2c3757"},
 {l:1147.6,r:1945,t:1469.4,b:1938.2, title:[1570,1455], ylab:[1070,1707], tg:7, xg:14, navy:"#2c3757"},
 {l:126.3,r:957.7,t:2190.9,b:2652.1, title:[597,2182], ylab:[50.5,2435.5], tg:11, xg:7, navy:"#2c3757"},
 {l:1147,r:1948.3,t:2196.7,b:2656.3, title:[1609,2185], ylab:[1070,2427], tg:10, xg:8, navy:"#2c3757"}
];
// annotation geometry in data coordinates [year, value]
const annotations = [
 {mar:{box:[2009.05,29.1,2023.15,18.3], path:[[2021.22,18.3],[2022.8,14.4]]},
  oct:{box:[1995.24,-26.9,2009.83,-37.7], path:[[2010.11,-26.4],[2022.63,-3.0]]}},
 {mar:{box:[1996.66,-8.9,2011.09,-21.2], path:[[2010.04,-8.25],[2019.6,12.5],[2020.97,14.2],[2022.6,13.6]], curve:true},
  oct:{box:[1995.0,-27.5,2009.93,-40], path:[[2010.04,-36.8],[2022.24,-5.25]]}},
 {mar:{box:[2010.57,38.6,2024.77,24.5], path:[[2017.06,24.2],[2019.55,18.5],[2023.38,18.5]]},
  oct:{box:[1996.51,-32.6,2011.21,-46.6], path:[[2009.61,-32.1],[2010.04,-5.8],[2023.45,2.4]]}},
 {mar:{box:[2002.77,84.4,2017.32,44.0], path:[[2017.58,63.8],[2020.12,63.8],[2023.5,-7.3]]},
  oct:{box:[1996.4,-102.3,2011.86,-142.2], path:[[2011.39,-101],[2011.39,-43],[2022.6,-38.8]]}},
 {mar:{box:[2000.49,46.8,2014.69,18.9], path:[[2014.79,44.4],[2018.24,44.4],[2023.77,7.8]]},
  oct:{box:[2000.24,-97,2014.97,-125.2], path:[[2011.7,-94.3],[2011.7,-29.2],[2022.5,-22.8]]}},
 {mar:{box:[2010.19,92.6,2024.75,68.3], path:[[2018.12,68.0],[2023.76,57.8]]},
  oct:{box:[1998.51,-32.6,2013.61,-56.9], path:[[2012.12,-31.4],[2012.37,24.6],[2022.49,32.0]]}},
 {last:{box:[1983.61,-22.4,1997.59,-53.1]}},
 {mar:{box:[1990.1,75.9,2004.88,54.4], path:[[2005.03,68.3],[2023.87,68.3],[2023.87,24.9]]},
  oct:{box:[1998.36,-35.2,2013.36,-56.9], path:[[2013.47,-50],[2022.27,-50],[2023.07,-27]]}}
];

// ---------------- DRAW ----------------
const W=1977, H=2928;
const BLUE="#3d3de8", NAVY="#2e3a5c", RED="#ff0000", GRAYTXT="#595959", GRID="#d9d9d9";
const SANS="'Liberation Sans', Arial, sans-serif";
const WIDE="'DejaVu Sans', Verdana, sans-serif";

const svg=d3.select("body").append("svg").attr("width",W).attr("height",H).style("display","block");
svg.append("rect").attr("width",W).attr("height",H).attr("fill","#fff");
svg.append("rect").attr("x",7.5).attr("y",11.5).attr("width",1958).attr("height",2930)
  .attr("fill","none").attr("stroke","#222").attr("stroke-width",2);

const defs=svg.append("defs");
defs.append("marker").attr("id","ah").attr("viewBox","0 0 16 12").attr("markerWidth",16).attr("markerHeight",12)
  .attr("refX",15).attr("refY",6).attr("orient","auto").attr("markerUnits","userSpaceOnUse")
  .append("path").attr("d","M0,0L16,6L0,12Z").attr("fill",BLUE);

function toDate(y){const yr=Math.floor(y);const a=new Date(yr,0,1).getTime(),b=new Date(yr+1,0,1).getTime();return new Date(a+(y-yr)*(b-a));}
const parseTick=d3.timeParse("%b-%Y");
const xTickDates=xTickLabels.map(parseTick);

layout.forEach((p,i)=>{
  const g=svg.append("g");
  const x=d3.scaleTime().domain([xTickDates[0],xTickDates[xTickDates.length-1]]).range([p.l,p.r]);
  const y=d3.scaleLinear().domain(yDomains[i]).range([p.b,p.t]);
  const X=d=>x(toDate(d[0])), Y=d=>y(d[1]);

  // gridlines
  const yGrid=d3.range(yDomains[i][0],yDomains[i][1]+0.001,yGridSteps[i]);
  g.append("g").selectAll("line").data(yGrid).join("line")
    .attr("x1",p.l).attr("x2",p.r).attr("y1",d=>y(d)).attr("y2",d=>y(d))
    .attr("stroke",GRID).attr("stroke-width",2);
  g.append("g").selectAll("line").data(xTickDates).join("line")
    .attr("x1",d=>x(d)).attr("x2",d=>x(d)).attr("y1",p.t).attr("y2",p.b)
    .attr("stroke",GRID).attr("stroke-width",2);
  g.append("line").attr("x1",p.l).attr("x2",p.r).attr("y1",p.b).attr("y2",p.b).attr("stroke","#bfbfbf").attr("stroke-width",2);
  g.append("line").attr("x1",p.l).attr("x2",p.l).attr("y1",p.t).attr("y2",p.b).attr("stroke","#bfbfbf").attr("stroke-width",2);

  // axes
  const ya=g.append("g").attr("transform",`translate(${p.l},0)`)
    .call(d3.axisLeft(y).tickValues(yTickLabels[i]).tickSize(0).tickPadding(p.tg).tickFormat(d3.format("d")));
  ya.select(".domain").remove();
  ya.selectAll("text").attr("fill",GRAYTXT).style("font-family",SANS).style("font-size","24px");

  const xa=g.append("g").attr("transform",`translate(0,${p.b})`)
    .call(d3.axisBottom(x).tickValues(xTickDates).tickSize(0).tickFormat(d3.timeFormat("%b-%Y")));
  xa.select(".domain").remove();
  xa.selectAll("text").attr("transform","rotate(-90)").attr("x",-p.xg).attr("y",0).attr("dy","0.36em")
    .attr("text-anchor","end").attr("fill",GRAYTXT).style("font-family",WIDE).style("font-size","22px");

  // title
  g.append("text").attr("x",p.title[0]).attr("y",p.title[1]).attr("text-anchor","middle")
    .attr("fill",GRAYTXT).style("font-family",SANS).style("font-size","32px").text(wellTitles[i]);
  // y-axis title
  g.append("text").attr("transform",`translate(${p.ylab[0]},${p.ylab[1]}) rotate(-90)`).attr("dy","0.36em")
    .attr("text-anchor","middle").attr("fill",GRAYTXT).style("font-family",WIDE).style("font-size","26px")
    .text("Groundwater Elevation (ft MSL)");

  // reference lines
  g.append("line").attr("x1",p.l).attr("x2",p.r).attr("y1",y(measurableObjective[i])).attr("y2",y(measurableObjective[i]))
    .attr("stroke",p.navy).attr("stroke-width",4);
  g.append("line").attr("x1",p.l).attr("x2",p.r).attr("y1",y(minimumThreshold[i])).attr("y2",y(minimumThreshold[i]))
    .attr("stroke",RED).attr("stroke-width",4);

  // hydrograph
  const line=d3.line().defined(d=>d[1]!==null).x(X).y(Y);
  g.append("path").datum(groundwater[i]).attr("d",line).attr("fill","none")
    .attr("stroke","#1e1e1e").attr("stroke-width",3.3).attr("stroke-linejoin","round").attr("stroke-linecap","round");

  if(i===0){
    g.selectAll(".xd").data(extraDots1).join("circle").attr("cx",X).attr("cy",Y).attr("r",3.5).attr("fill",BLUE);
  }

  // annotations
  const a=annotations[i];
  function box(b,lines){
    const x0=x(toDate(b[0])), y0=y(b[1]), x1=x(toDate(b[2])), y1=y(b[3]);
    g.append("rect").attr("x",x0).attr("y",y0).attr("width",x1-x0).attr("height",y1-y0)
      .attr("fill","#fff").attr("stroke",BLUE).attr("stroke-width",2.5);
    const n=lines.length, h=y1-y0, step=32;
    const first = n===2 ? y0+h/2-16+11 : y0+h/2-32+10;
    lines.forEach((t,k)=>{
      g.append("text").attr("x",(x0+x1)/2).attr("y",first+k*step).attr("text-anchor","middle")
        .attr("fill","#000").style("font-family",SANS).style("font-size","24px").text(t);
    });
  }
  function arrow(pts,curve){
    const l=d3.line().x(X).y(Y).curve(curve?d3.curveBasis:d3.curveLinear);
    g.append("path").datum(pts).attr("d",l).attr("fill","none").attr("stroke",BLUE).attr("stroke-width",2.6)
      .attr("stroke-dasharray","9,6").attr("marker-end","url(#ah)");
  }
  if(a.mar){ arrow(a.mar.path,a.mar.curve); box(a.mar.box,["March 2024 Elevation",marchLabels[i]]); }
  if(a.oct){ arrow(a.oct.path,false); box(a.oct.box,["October 2023 Elevation",octoberLabels[i]]); }
  if(a.last){ box(a.last.box,lastMeasurementLines); }

  // measurement points
  [oct2023Points[i],mar2024Points[i]].forEach(pt=>{
    if(!pt) return;
    const c=g.append("circle").attr("cx",X(pt)).attr("cy",Y(pt)).attr("r",7.2);
    if(pointMeasured[i]) c.attr("fill",BLUE);
    else c.attr("fill","#fff").attr("stroke",BLUE).attr("stroke-width",2.6);
  });

  // 2025 interim milestone
  const m=interimMilestone2025[i];
  g.append("path").attr("d",d3.symbol(d3.symbolStar,110)()).attr("transform",`translate(${X(m)},${Y(m)})`)
    .attr("fill","#ffff00").attr("stroke","#000").attr("stroke-width",1.3);
});

// ---------------- LEGEND ----------------
const lg=svg.append("g");
const legendItems=[
  {type:"bar",color:"#000",sx:95,tx:160,tw:256,label:"Groundwater Elevation"},
  {type:"bar",color:"#e00000",sx:489,tx:556,tw:222,label:"Minimum Threshold"},
  {type:"bar",color:NAVY,sx:924,tx:991,tw:241,label:"Measurable Objective"},
  {type:"star",sx:1314,tx:1345,tw:607,label:"2025 Interim Milestone for Average Climate Conditions"}
];
legendItems.forEach(it=>{
  if(it.type==="bar"){
    lg.append("rect").attr("x",it.sx).attr("y",2823).attr("width",44).attr("height",3).attr("fill","#9a9a9a");
    lg.append("rect").attr("x",it.sx).attr("y",2819).attr("width",44).attr("height",5).attr("fill",it.color);
  } else {
    lg.append("path").attr("d",d3.symbol(d3.symbolStar,60)()).attr("transform",`translate(${it.sx},2822)`)
      .attr("fill","#ffff00").attr("stroke","#000").attr("stroke-width",1);
  }
  lg.append("text").attr("x",it.tx).attr("y",2829).attr("fill","#000").style("font-family",SANS).style("font-size","24px")
    .attr("textLength",it.tw).attr("lengthAdjust","spacingAndGlyphs").text(it.label);
});
lg.append("ellipse").attr("cx",391).attr("cy",2896).attr("rx",3.5).attr("ry",5).attr("fill","none").attr("stroke","#0000ff").attr("stroke-width",2);
lg.append("text").attr("x",417).attr("y",2905).attr("fill","#000").style("font-family",SANS).style("font-size","24px")
  .attr("textLength",1115).attr("lengthAdjust","spacingAndGlyphs")
  .text("Measurement not collected between October 2 and October 29, 2023 or March 2 and March 29, 2024");
</script>
</body></html>
